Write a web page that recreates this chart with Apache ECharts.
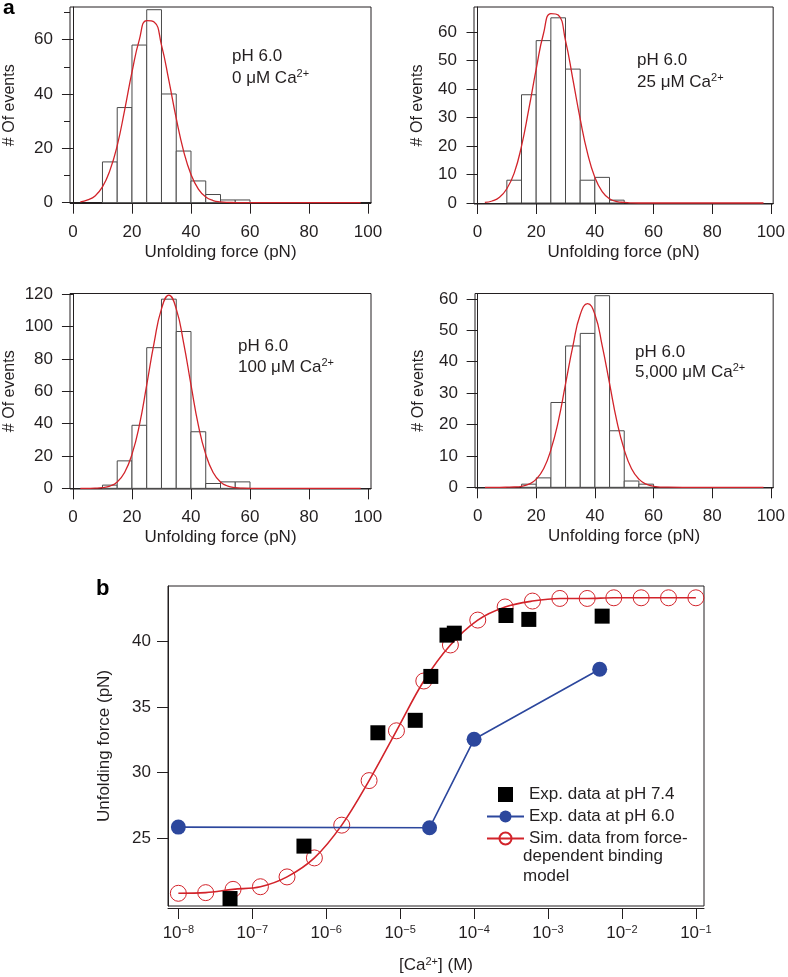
<!DOCTYPE html>
<html>
<head>
<meta charset="utf-8">
<title>Unfolding force vs Ca2+</title>
<script src="https://cdn.jsdelivr.net/npm/echarts@6/dist/echarts.min.js"></script>
<style>
  html, body { margin: 0; padding: 0; background: #fff; }
  #chart { width: 788px; height: 977px; }
</style>
</head>
<body>
<div id="chart"></div>
<script>
// --- panel a: histograms, 5 pN bins (left edge of each bin)
const binLeft = [10, 15, 20, 25, 30, 35, 40, 45, 50, 55];
const counts0uM = [15, 35, 58, 71, 40, 19, 8, 3, 1, 1];
const counts25uM = [8, 38, 57, 65, 47, 8, 9, 1, 0, 0];
const counts100uM = [2, 17, 39, 87, 117, 97, 35, 3, 4, 4];
const counts5000uM = [0, 1, 3, 27, 45, 49, 61, 18, 2, 1];

// red fit curves
const fitX = [2.5, 5, 7.5, 10, 12.5, 15, 17.5, 20, 22.5, 25, 27.5, 30, 32.5, 35, 37.5, 40, 42.5, 45, 47.5, 50, 52.5, 55, 57.5, 60, 65, 70, 80, 90, 97.5];
const fit0uM = [0.3, 1.0, 2.5, 5.8, 11.8, 21, 34, 48, 60, 67, 66.5, 58, 45, 31, 19, 10.4, 5, 2.1, 0.8, 0.3, 0.1, 0.05, 0, 0, 0, 0, 0, 0, 0];
const fit25uM = [0.2, 0.7, 2, 5, 10.5, 20, 33, 47, 59.5, 66.5, 66, 57, 43.5, 29.5, 17.5, 9, 4, 1.5, 0.5, 0.2, 0.05, 0, 0, 0, 0, 0, 0, 0, 0];
const fit100uM = [0, 0.03, 0.11, 0.42, 1.4, 3.9, 9.8, 21, 39, 64, 90, 111, 119.5, 111, 90, 64, 39, 21, 9.8, 3.9, 1.4, 0.42, 0.1, 0, 0, 0, 0, 0, 0];
const fit5000uM = [0, 0, 0, 0.03, 0.1, 0.33, 1, 2.6, 5.9, 12, 21, 33, 45, 55, 58.5, 55, 45, 33, 21, 12, 5.9, 2.6, 1, 0.33, 0.03, 0, 0, 0, 0];

const forceTicks = [0, 20, 40, 60, 80, 100];

// --- panel b
const ph74Conc = [5e-8, 5e-7, 5e-6, 1.6e-5, 2.6e-5, 4.3e-5, 5.4e-5, 2.7e-4, 5.5e-4, 5.4e-3];
const ph74Force = [20.4, 24.4, 33.05, 34.0, 37.35, 40.5, 40.65, 42.0, 41.7, 41.95];
const ph60Conc = [1e-8, 2.5e-5, 1e-4, 5e-3];
const ph60Force = [25.85, 25.8, 32.55, 37.9];
const simLogConc = [-8, -7.63, -7.26, -6.89, -6.53, -6.16, -5.79, -5.42, -5.05, -4.68, -4.32, -3.95, -3.58, -3.21, -2.84, -2.47, -2.11, -1.74, -1.37, -1];
const simForce = [20.8, 20.85, 21.1, 21.3, 22.05, 23.5, 26.0, 29.4, 33.2, 37.0, 39.75, 41.65, 42.65, 43.1, 43.3, 43.3, 43.35, 43.35, 43.35, 43.35];
const decadeTicks = [-8, -7, -6, -5, -4, -3, -2, -1];
const forceTicksB = [25, 30, 35, 40];

const FONT = "'Liberation Sans', Arial, Helvetica, sans-serif";
const INK = '#231f20';
const RED = '#d2232a';
const BLUE = '#2c479d';
const SUP = { fontSize: 11, fontFamily: FONT, color: INK, padding: [0, 0, 8, 0] };

const chart = echarts.init(document.getElementById('chart'));

function forceAxis(grid, min, max) {
  return {
    type: 'value', gridIndex: grid, min: min, max: max, offset: 3,
    name: 'Unfolding force (pN)', nameLocation: 'middle', nameGap: 37,
    nameTextStyle: { fontFamily: FONT, fontSize: 17, color: INK },
    axisLine: { show: true, lineStyle: { color: INK, width: 1 } },
    axisTick: { show: true, length: 11, customValues: forceTicks, lineStyle: { color: INK } },
    axisLabel: { customValues: forceTicks, margin: 17, fontFamily: FONT, fontSize: 17, color: INK },
    splitLine: { show: false }
  };
}

function countAxis(grid, min, max, ticks, gap) {
  return {
    type: 'value', gridIndex: grid, min: min, max: max,
    name: '# Of events', nameLocation: 'middle', nameGap: gap,
    nameTextStyle: { fontFamily: FONT, fontSize: 16, color: INK },
    axisLine: { show: true, lineStyle: { color: INK, width: 1 } },
    axisTick: { show: true, length: 11, customValues: ticks, lineStyle: { color: INK } },
    axisLabel: { customValues: ticks, margin: 17, fontFamily: FONT, fontSize: 17, color: INK },
    splitLine: { show: false }
  };
}

function histBars(idx, counts) {
  const data = binLeft.map((b, k) => [b, b + 5, counts[k]]).filter(d => d[2] > 0);
  return {
    type: 'custom', xAxisIndex: idx, yAxisIndex: idx, z: 2, data: data,
    renderItem: function (params, api) {
      const p0 = api.coord([api.value(0), 0]);
      const p1 = api.coord([api.value(1), api.value(2)]);
      return {
        type: 'rect',
        shape: { x: p0[0], y: p1[1], width: p1[0] - p0[0], height: p0[1] - p1[1] },
        style: { fill: '#fff', stroke: '#4a4a4a', lineWidth: 1 }
      };
    }
  };
}

function fitLine(idx, ys) {
  return {
    type: 'line', xAxisIndex: idx, yAxisIndex: idx, z: 3, smooth: true, symbol: 'none',
    lineStyle: { color: RED, width: 1.3 },
    data: fitX.map((x, k) => [x, ys[k]])
  };
}

function note(x, y, text) {
  return {
    type: 'text', x: x, y: y, z: 10,
    style: { text: text, fontFamily: FONT, fontSize: 17, fill: INK, verticalAlign: 'middle', rich: { sup: SUP } }
  };
}

const option = {
  animation: false,
  grid: [
    { left: 70, top: 7, width: 301, height: 196.5, show: true, borderColor: INK, borderWidth: 1 },
    { left: 474, top: 7, width: 302, height: 197, show: true, borderColor: INK, borderWidth: 1 },
    { left: 70, top: 293.5, width: 301, height: 195.5, show: true, borderColor: INK, borderWidth: 1 },
    { left: 475, top: 293.5, width: 301, height: 194.5, show: true, borderColor: INK, borderWidth: 1 },
    { left: 168, top: 586, width: 536, height: 320, show: true, borderColor: INK, borderWidth: 1 }
  ],
  xAxis: [
    forceAxis(0, -1, 101),
    forceAxis(1, -1.2, 100.8),
    forceAxis(2, -1, 101),
    forceAxis(3, -0.9, 100.8),
    {
      type: 'value', gridIndex: 4, min: -8.14, max: -0.89, offset: 2,
      name: '[Ca{sup|2+}] (M)', nameLocation: 'middle', nameGap: 48,
      nameTextStyle: { fontFamily: FONT, fontSize: 17, color: INK, rich: { sup: SUP } },
      axisLine: { show: true, lineStyle: { color: INK } },
      axisTick: { show: true, length: 11, customValues: decadeTicks, lineStyle: { color: INK } },
      axisLabel: {
        customValues: decadeTicks, margin: 16, fontFamily: FONT, fontSize: 17, color: INK,
        formatter: v => '10{sup|\u2212' + Math.abs(v) + '}',
        rich: { sup: SUP }
      },
      splitLine: { show: false }
    }
  ],
  yAxis: [
    countAxis(0, -0.3, 72, [0, 20, 40, 60], 52),
    countAxis(1, -0.35, 68.8, [0, 10, 20, 30, 40, 50, 60], 48),
    countAxis(2, -0.4, 120.5, [0, 20, 40, 60, 80, 100, 120], 52),
    countAxis(3, -0.22, 61.7, [0, 10, 20, 30, 40, 50, 60], 48),
    {
      // short minor ticks of the first histogram
      type: 'value', gridIndex: 0, min: -0.3, max: 72, position: 'left',
      axisLine: { show: false },
      axisTick: { show: true, length: 6, customValues: [10, 30, 50, 70], lineStyle: { color: INK } },
      axisLabel: { show: false }, splitLine: { show: false }
    },
    {
      type: 'value', gridIndex: 4, min: 19.83, max: 44.25,
      name: 'Unfolding force (pN)', nameLocation: 'middle', nameGap: 55,
      nameTextStyle: { fontFamily: FONT, fontSize: 17, color: INK },
      axisLine: { show: true, lineStyle: { color: INK } },
      axisTick: { show: true, length: 11, customValues: forceTicksB, lineStyle: { color: INK } },
      axisLabel: { customValues: forceTicksB, margin: 17, fontFamily: FONT, fontSize: 17, color: INK },
      splitLine: { show: false }
    }
  ],
  legend: {
    orient: 'vertical', left: 481, top: 781, itemWidth: 37, itemHeight: 15, itemGap: 5,
    textStyle: { fontFamily: FONT, fontSize: 17, color: INK },
    data: ['Exp. data at pH 7.4', 'Exp. data at pH 6.0', 'Sim. data from force-']
  },
  series: [
    histBars(0, counts0uM), fitLine(0, fit0uM),
    histBars(1, counts25uM), fitLine(1, fit25uM),
    histBars(2, counts100uM), fitLine(2, fit100uM),
    histBars(3, counts5000uM), fitLine(3, fit5000uM),
    {
      name: 'Sim. data from force-', type: 'line', xAxisIndex: 4, yAxisIndex: 5, z: 3,
      smooth: 0.35, symbol: 'circle', symbolSize: 16,
      lineStyle: { color: RED, width: 1.6 },
      itemStyle: { color: 'rgba(255,255,255,0)', borderColor: RED, borderWidth: 1 },
      data: simLogConc.map((x, k) => [x, simForce[k]])
    },
    {
      name: 'Exp. data at pH 6.0', type: 'line', xAxisIndex: 4, yAxisIndex: 5, z: 4,
      symbol: 'circle', symbolSize: 15,
      lineStyle: { color: BLUE, width: 1.6 },
      itemStyle: { color: BLUE },
      data: ph60Conc.map((c, k) => [Math.log10(c), ph60Force[k]])
    },
    {
      name: 'Exp. data at pH 7.4', type: 'scatter', xAxisIndex: 4, yAxisIndex: 5, z: 5,
      symbol: 'path://M0,0H10V10H0Z', symbolKeepAspect: true, symbolSize: 15,
      itemStyle: { color: '#000', opacity: 1 },
      data: ph74Conc.map((c, k) => [Math.log10(c), ph74Force[k]])
    }
  ],
  graphic: [
    { type: 'text', x: 3, y: -2, style: { text: 'a', fontFamily: FONT, fontSize: 21, fontWeight: 'bold', fill: '#000' } },
    { type: 'text', x: 96, y: 578, style: { text: 'b', fontFamily: FONT, fontSize: 22, fontWeight: 'bold', fill: '#000' } },
    note(232, 56, 'pH 6.0'), note(232, 78, '0 \u03bcM Ca{sup|2+}'),
    note(637, 60, 'pH 6.0'), note(637, 82, '25 \u03bcM Ca{sup|2+}'),
    note(238, 346, 'pH 6.0'), note(238, 367, '100 \u03bcM Ca{sup|2+}'),
    note(635, 352, 'pH 6.0'), note(635, 372, '5,000 \u03bcM Ca{sup|2+}'),
    { type: 'text', x: 523, y: 856, style: { text: 'dependent binding', fontFamily: FONT, fontSize: 17, fill: INK, verticalAlign: 'middle' } },
    { type: 'text', x: 523, y: 876, style: { text: 'model', fontFamily: FONT, fontSize: 17, fill: INK, verticalAlign: 'middle' } }
  ]
};

chart.setOption(option);
</script>
</body>
</html>
